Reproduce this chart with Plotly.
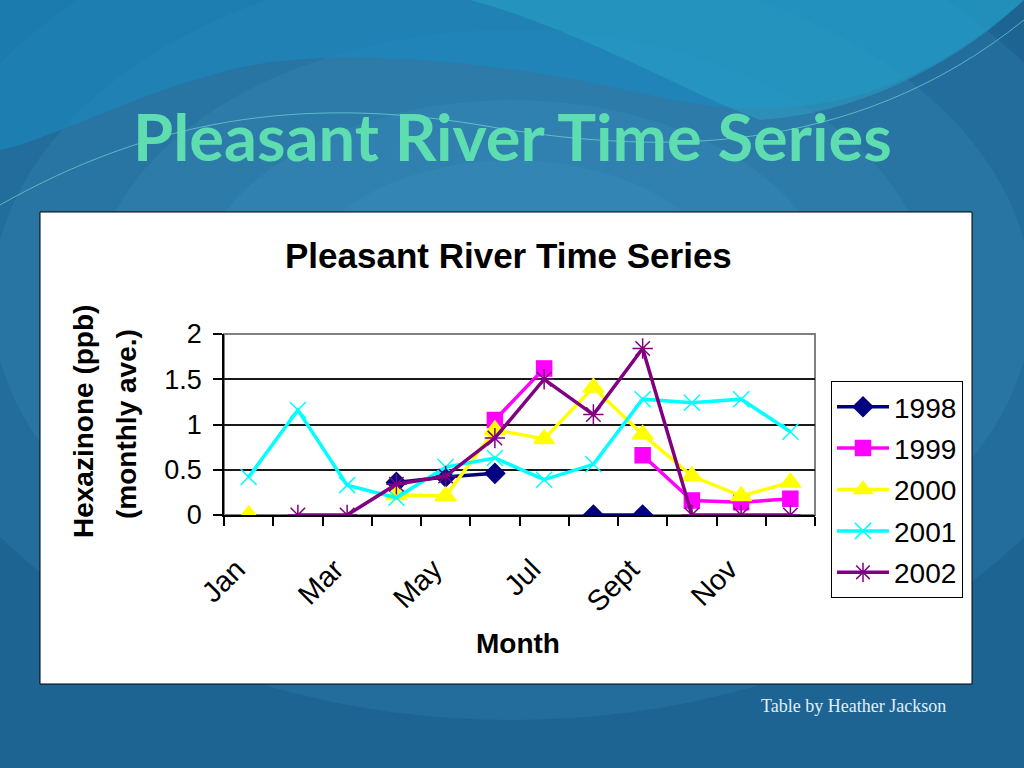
import plotly.graph_objects as go

months = ["Jan", "Feb", "Mar", "Apr", "May", "Jun", "Jul", "Aug", "Sept", "Oct", "Nov", "Dec"]
month_labels = ["Jan", "", "Mar", "", "May", "", "Jul", "", "Sept", "", "Nov", ""]

y1998 = [None, None, None, 0.36, 0.42, 0.46, None, 0.0, 0.0, None, None, None]
y1999 = [None, None, None, None, None, 1.05, 1.62, None, 0.66, 0.16, 0.14, 0.18]
y2000 = [0.0, None, None, 0.22, 0.21, 0.94, 0.84, 1.41, 0.89, 0.43, 0.21, 0.36]
y2001 = [0.42, 1.16, 0.33, 0.19, 0.53, 0.63, 0.39, 0.56, 1.28, 1.24, 1.28, 0.92]
y2002 = [None, 0.0, 0.0, 0.34, 0.43, 0.85, 1.50, 1.11, 1.84, 0.0, 0.0, 0.0]

yticks = [0, 0.5, 1, 1.5, 2]
ytick_labels = ["0", "0.5", "1", "1.5", "2"]

W, H = 1024, 768
def px(x, y):
    return x / W, 1 - y / H

def path(points):
    parts = []
    for cmd, pts in points:
        coords = " ".join("%.4f,%.4f" % px(a, b) for a, b in pts)
        parts.append(cmd + " " + coords)
    return " ".join(parts) + " Z"

series = [
    ("1998", y1998, "#000080", "diamond", 15),
    ("1999", y1999, "#FF00FF", "square", 15),
    ("2000", y2000, "#FFFF00", "triangle-up", 18),
    ("2001", y2001, "#00FFFF", "x-thin-open", 16),
    ("2002", y2002, "#800080", "asterisk-open", 17),
]

fig = go.Figure()
for name, vals, col, sym, sz in series:
    fig.add_trace(go.Scatter(
        x=months, y=vals, name=name, mode="lines+markers",
        line=dict(color=col, width=3.5),
        marker=dict(symbol=sym, size=sz, color=col, line=dict(color=col, width=1.5)),
        legendgroup=name, connectgaps=False,
    ))

x0, x1 = 224 / W, 815 / W
yb, yt = 1 - 515 / H, 1 - 334 / H

shapes = []
# soft light in centre of slide
for rx, ry in [(620, 420), (520, 340), (420, 270), (320, 200), (220, 140)]:
    cx, cy = 512, 300
    shapes.append(dict(type="circle", xref="paper", yref="paper", layer="below",
                       x0=(cx - rx) / W, x1=(cx + rx) / W, y0=1 - (cy + ry) / H, y1=1 - (cy - ry) / H,
                       fillcolor="#4FA8DA", opacity=0.13, line=dict(width=0)))
# top waves
shapes.append(dict(type="path", xref="paper", yref="paper", layer="below",
                   path=path([("M", [(0, 0)]), ("L", [(1024, 0), (1024, 30)]),
                              ("C", [(900, 110), (780, 125), (650, 95)]),
                              ("C", [(500, 60), (330, 45), (230, 70)]),
                              ("C", [(130, 95), (50, 140), (0, 150)])]),
                   fillcolor="#1A8DC4", opacity=0.55, line=dict(width=0)))
shapes.append(dict(type="path", xref="paper", yref="paper", layer="below",
                   path=path([("M", [(470, 0)]), ("L", [(1024, 0), (1024, 20)]),
                              ("C", [(950, 70), (850, 115), (760, 120)]),
                              ("C", [(680, 90), (580, 30), (470, 0)])]),
                   fillcolor="#2BA9C9", opacity=0.45, line=dict(width=0)))
shapes.append(dict(type="path", xref="paper", yref="paper", layer="below",
                   path="M " + " C ".join(
                       ["%.4f,%.4f" % px(0, 205)] +
                       [" ".join("%.4f,%.4f" % px(a, b) for a, b in [(150, 120), (300, 95), (480, 125)]),
                        " ".join("%.4f,%.4f" % px(a, b) for a, b in [(650, 155), (850, 160), (1024, 20)])]),
                   line=dict(color="#7FE6E0", width=1), opacity=0.6))
# white chart area
shapes.append(dict(type="rect", xref="paper", yref="paper", layer="below",
                   x0=40 / W, x1=972 / W, y0=1 - 684 / H, y1=1 - 212 / H,
                   fillcolor="white", line=dict(color="black", width=1)))
# plot-area frame
shapes.append(dict(type="rect", xref="paper", yref="paper", layer="below",
                   x0=x0, x1=x1, y0=yb, y1=yt, line=dict(color="#808080", width=2)))

font_arial = "Liberation Sans, Arial, sans-serif"

annotations = [
    dict(text="<b>Pleasant River Time Series</b>", x=512 / W, y=1 - 136 / H, xref="paper", yref="paper",
         showarrow=False, xanchor="center", yanchor="middle",
         font=dict(family="Lato, Open Sans, sans-serif", size=65, color="#5EDDB0")),
    dict(text="<b>Pleasant River Time Series</b>", x=508 / W, y=1 - 255 / H, xref="paper", yref="paper",
         showarrow=False, xanchor="center", yanchor="middle",
         font=dict(family=font_arial, size=35, color="black")),
    dict(text="<b>Hexazinone (ppb)</b>", x=83 / W, y=1 - 422 / H, xref="paper", yref="paper",
         showarrow=False, xanchor="center", yanchor="middle", textangle=-90,
         font=dict(family=font_arial, size=28, color="black")),
    dict(text="<b>(monthly ave.)</b>", x=126 / W, y=1 - 424 / H, xref="paper", yref="paper",
         showarrow=False, xanchor="center", yanchor="middle", textangle=-90,
         font=dict(family=font_arial, size=28, color="black")),
    dict(text="<b>Month</b>", x=518 / W, y=1 - 643 / H, xref="paper", yref="paper",
         showarrow=False, xanchor="center", yanchor="middle",
         font=dict(family=font_arial, size=28, color="black")),
    dict(text="Table by Heather Jackson", x=853 / W, y=1 - 706 / H, xref="paper", yref="paper",
         showarrow=False, xanchor="center", yanchor="middle",
         font=dict(family="Liberation Serif, DejaVu Serif, serif", size=18, color="#E2EEF5")),
]

fig.update_layout(
    template="none",
    width=W, height=H, margin=dict(l=0, r=0, t=0, b=0, pad=0, autoexpand=False),
    paper_bgcolor="#1D6493", plot_bgcolor="#C0C0C0",
    shapes=shapes, annotations=annotations,
    showlegend=True,
    legend=dict(x=831 / W, y=1 - 381 / H, xanchor="left", yanchor="top",
                bgcolor="white", bordercolor="black", borderwidth=1,
                font=dict(family=font_arial, size=28, color="black"),
                tracegroupgap=2, itemwidth=52),
    xaxis=dict(domain=[x0, x1], type="category", categoryorder="array", categoryarray=months,
               range=[-0.5, 11.5],
               tickvals=months, ticktext=month_labels, tickson="boundaries",
               ticks="outside", ticklen=9, tickcolor="black", tickwidth=1.5,
               showline=True, linecolor="black", linewidth=1.5, showgrid=False,
               tickangle=-45, ticklabelstandoff=24, ticklabelshift=-12, automargin=False,
               tickfont=dict(family=font_arial, size=29, color="black"), anchor="y"),
    yaxis=dict(domain=[yb, yt], range=[0, 2], tickvals=yticks, ticktext=ytick_labels,
               ticks="outside", ticklen=9, tickcolor="black", tickwidth=1.5,
               showline=True, linecolor="black", linewidth=1.5,
               showgrid=True, gridcolor="#1A1A1A", gridwidth=1.5, zeroline=False,
               ticklabelstandoff=6, automargin=False,
               tickfont=dict(family=font_arial, size=27, color="black"), anchor="x"),
)

fig.write_html("out.html", config={"displayModeBar": False},
               post_script="document.body.style.margin='0';")
